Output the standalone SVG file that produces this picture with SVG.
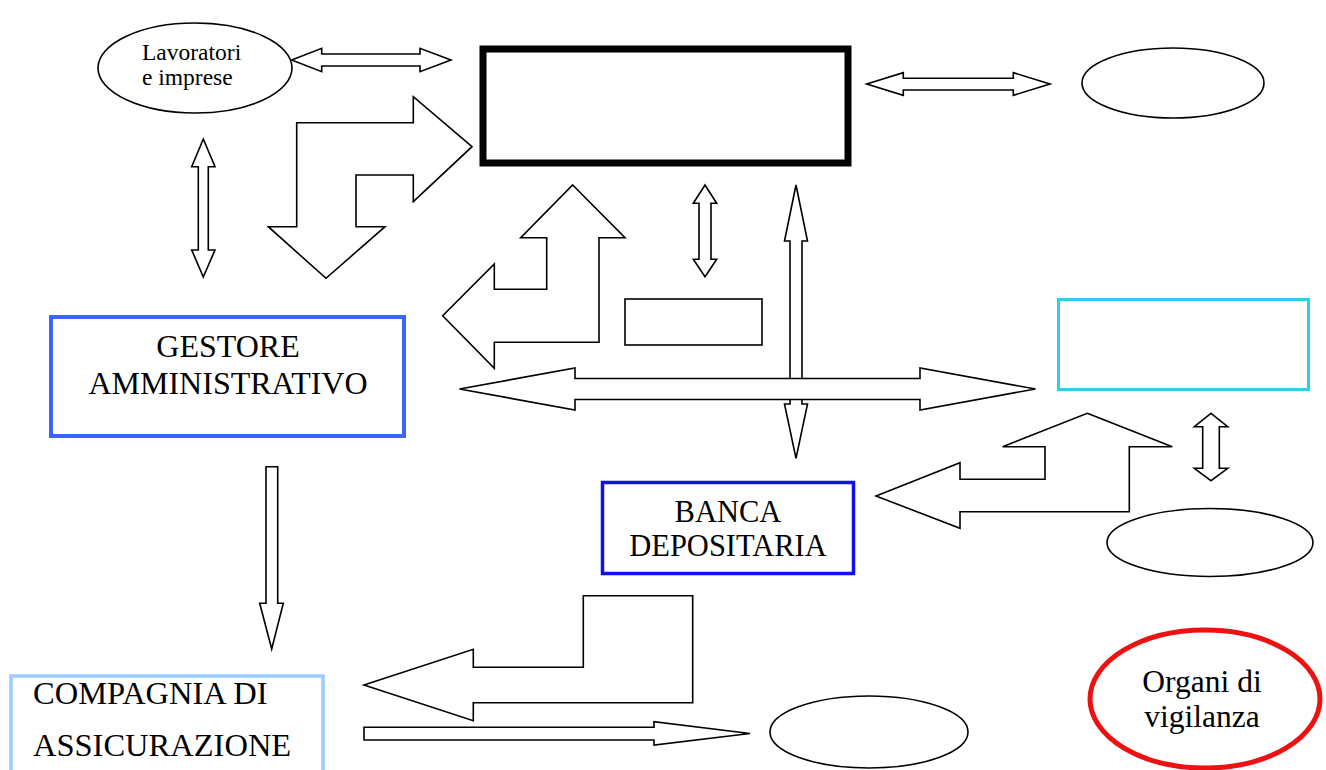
<svg xmlns="http://www.w3.org/2000/svg" width="1326" height="770" viewBox="0 0 1326 770">
<style>
.a{fill:#fff;stroke:#000;stroke-width:1.6;stroke-linejoin:miter}
.n{fill:#fff;stroke:#000;stroke-width:1.6}
.t{font-family:"Liberation Serif","Times New Roman",serif;fill:#000}
</style>
<rect width="1326" height="770" fill="#fff"/>
<g id="nodes">
<g id="lavoratori">
<ellipse class="n" cx="195" cy="68" rx="97" ry="45"/>
<text class="t" x="142" y="60" font-size="23.5">Lavoratori</text>
<text class="t" x="142" y="85" font-size="23.5">e imprese</text>
</g>
<g id="fondo"><rect x="483" y="49" width="365" height="114" fill="#fff" stroke="#000" stroke-width="7"/></g>
<g id="ellipse-top-right"><ellipse class="n" cx="1173" cy="83" rx="91" ry="35"/></g>
<g id="small-rect"><rect class="n" x="625" y="299" width="137" height="46"/></g>
<g id="gestore">
<rect x="51" y="317" width="353" height="119" fill="#fff" stroke="#3a66f5" stroke-width="4"/>
<text class="t" x="228" y="357" font-size="32" text-anchor="middle">GESTORE</text>
<text class="t" x="228" y="394" font-size="32" text-anchor="middle">AMMINISTRATIVO</text>
</g>
<g id="cyan-rect"><rect x="1058.5" y="299.5" width="250" height="90" fill="#fff" stroke="#33ccee" stroke-width="3"/></g>
<g id="banca">
<rect x="602.5" y="482.5" width="251" height="91" fill="#fff" stroke="#1010ee" stroke-width="3.5"/>
<text class="t" x="728" y="521.5" font-size="30.5" text-anchor="middle">BANCA</text>
<text class="t" x="728" y="556" font-size="30.5" text-anchor="middle">DEPOSITARIA</text>
</g>
<g id="ellipse-right"><ellipse class="n" cx="1210" cy="542.5" rx="103" ry="34"/></g>
<g id="compagnia">
<rect x="11" y="676" width="312" height="110" fill="#fff" stroke="#99ccff" stroke-width="3.5"/>
<text class="t" x="33" y="704" font-size="32.5">COMPAGNIA DI</text>
<text class="t" x="33" y="756" font-size="32.5">ASSICURAZIONE</text>
</g>
<g id="ellipse-bottom"><ellipse class="n" cx="869" cy="732" rx="99" ry="36"/></g>
<g id="organi">
<ellipse cx="1205" cy="699" rx="115" ry="69" fill="#fff" stroke="#ee1111" stroke-width="5"/>
<text class="t" x="1202" y="692" font-size="31.5" text-anchor="middle">Organi di</text>
<text class="t" x="1202" y="727" font-size="31.5" text-anchor="middle">vigilanza</text>
</g>
</g>
<g id="connectors">
<polygon class="a" points="291.7,60 321.7,48.3 321.7,54 420,54 420,48.3 451,60 420,71.7 420,66 321.7,66 321.7,71.7"/>
<polygon class="a" points="203.3,139 215,166.7 208.3,166.7 208.3,250 215,250 203.3,277 191.7,250 198.3,250 198.3,166.7 191.7,166.7"/>
<polygon class="a" points="472,146.7 413.3,96.7 413.3,122.7 296.7,122.7 296.7,226.7 268.3,226.7 326,278.3 385,226.7 356,226.7 356,175 413.3,175 413.3,201.7"/>
<polygon class="a" points="572.7,185 625,237.7 599,237.7 599,342.3 494.3,342.3 494.3,368.3 442.7,315.7 494.3,264 494.3,289.3 546.7,289.3 546.7,237.7 520.7,237.7"/>
<polygon class="a" points="866.7,84 903.3,72.7 903.3,78.3 1013.3,78.3 1013.3,72.7 1050,84 1013.3,95.3 1013.3,90 903.3,90 903.3,95.3"/>
<polygon class="a" points="705,185 716.7,203.3 711,203.3 711,259.3 716.7,259.3 705,276.7 693.3,259.3 699,259.3 699,203.3 693.3,203.3"/>
<polygon class="a" points="796,185 807.5,241 802,241 802,404 807.5,404 796,458.3 784.5,404 790,404 790,241 784.5,241"/>
<polygon class="a" points="459.5,389 575,368 575,378.5 920,378.5 920,368 1035.5,389 920,410 920,399.5 575,399.5 575,410"/>
<polygon class="a" points="1087.3,413.3 1172.3,446.7 1129.3,446.7 1129.3,511.7 960,511.7 960,528.3 876,496 960,462.7 960,479.3 1045,479.3 1045,446.7 1002.7,446.7"/>
<polygon class="a" points="1211,413.3 1227.7,426.7 1219.3,426.7 1219.3,468.3 1227.7,468.3 1211,480.7 1194.3,468.3 1202.7,468.3 1202.7,426.7 1194.3,426.7"/>
<polygon class="a" points="266,466.7 277.7,466.7 277.7,603.3 283.3,603.3 271.7,649 259.7,603.3 266,603.3"/>
<polygon class="a" points="583.3,595.7 692.7,595.7 692.7,702.7 473.3,702.7 473.3,720.7 364,685 473.3,649.3 473.3,667.3 583.3,667.3"/>
<polygon class="a" points="364,727.3 654,727.3 654,721.7 750,733.5 654,745 654,740 364,740"/>
</g>
</svg>
